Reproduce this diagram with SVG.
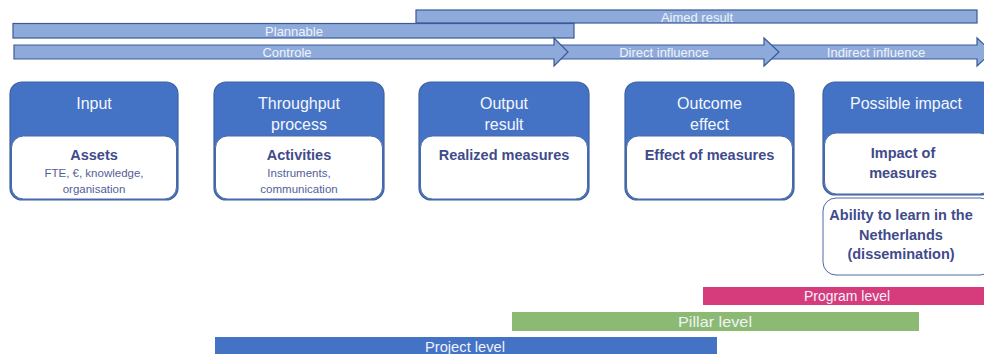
<svg xmlns="http://www.w3.org/2000/svg" width="984" height="354" viewBox="0 0 984 354">
<style>
.bar{fill:#8eaadb;stroke:#3a5a96;stroke-width:1.2}
.bt{font-family:"Liberation Sans",Arial,sans-serif;font-size:13px;fill:#eef2fa;text-anchor:middle}
.box{fill:#4472c4;stroke:#3f62a0;stroke-width:1.2}
.panel{fill:#ffffff;stroke:#4a6aa6;stroke-width:1}
.hd{font-family:"Liberation Sans",Arial,sans-serif;font-size:16px;fill:#f4f7fc;text-anchor:middle}
.bd{font-family:"Liberation Sans",Arial,sans-serif;font-size:14.5px;font-weight:bold;fill:#3f4b8b;text-anchor:middle}
.sb{font-family:"Liberation Sans",Arial,sans-serif;font-size:11.5px;fill:#55609a;text-anchor:middle}
.lv{font-family:"Liberation Sans",Arial,sans-serif;font-size:14.5px;fill:#eef2fa;text-anchor:middle}
</style>
<rect width="984" height="354" fill="#ffffff"/>

<g id="aimed-result">
<rect class="bar" x="416" y="10" width="561" height="13"/>
<text class="bt" x="697" y="21.5">Aimed result</text>
</g>
<g id="plannable">
<rect class="bar" x="13" y="23.5" width="561" height="14.5"/>
<text class="bt" x="294" y="35.5" font-size="13.5">Plannable</text>
</g>

<g id="connectors">
<g id="indirect-influence">
<polygon class="bar" points="770,45 977,45 977,38 992,52 977,66 977,59 770,59"/>
<text class="bt" x="876" y="56.5" font-size="12">Indirect influence</text>
</g>
<g id="direct-influence">
<polygon class="bar" points="557,45 764,45 764,38 779,52 764,66 764,59 557,59"/>
<text class="bt" x="664" y="56.5" font-size="12">Direct influence</text>
</g>
<g id="controle">
<polygon class="bar" points="14,45 554,45 554,38 568,52 554,66 554,59 14,59"/>
<text class="bt" x="287" y="57" font-size="13.5">Controle</text>
</g>
</g>

<g id="input">
<rect class="box" x="10" y="82" width="168" height="118" rx="12"/>
<rect class="panel" x="11.5" y="136" width="165" height="63" rx="12"/>
<text class="hd" x="94" y="108.5">Input</text>
<text class="bd" x="94" y="160">Assets</text>
<text class="sb" x="94" y="176.5">FTE, €, knowledge,</text>
<text class="sb" x="94" y="192.5">organisation</text>
</g>

<g id="throughput">
<rect class="box" x="214" y="82" width="170" height="118" rx="12"/>
<rect class="panel" x="215.5" y="136" width="167" height="63" rx="12"/>
<text class="hd" x="299" y="108.5">Throughput</text>
<text class="hd" x="299" y="130">process</text>
<text class="bd" x="299" y="160">Activities</text>
<text class="sb" x="299" y="176.5">Instruments,</text>
<text class="sb" x="299" y="192.5">communication</text>
</g>

<g id="output">
<rect class="box" x="419" y="82" width="170" height="118" rx="12"/>
<rect class="panel" x="420.5" y="136" width="167" height="63" rx="12"/>
<text class="hd" x="504" y="108.5">Output</text>
<text class="hd" x="504" y="130">result</text>
<text class="bd" x="504" y="159.5">Realized measures</text>
</g>

<g id="outcome">
<rect class="box" x="625" y="82" width="169" height="118" rx="12"/>
<rect class="panel" x="626.5" y="136" width="166" height="63" rx="12"/>
<text class="hd" x="709.5" y="108.5">Outcome</text>
<text class="hd" x="709.5" y="130">effect</text>
<text class="bd" x="709.5" y="159.5">Effect of measures</text>
</g>

<g id="possible-impact">
<rect class="box" x="823" y="82" width="170" height="113" rx="12"/>
<rect class="panel" x="824.5" y="133" width="167" height="61" rx="12"/>
<text class="hd" x="906" y="108.5">Possible impact</text>
<text class="bd" x="903" y="157.5">Impact of</text>
<text class="bd" x="903" y="177.5">measures</text>
</g>

<g id="dissemination">
<rect class="panel" x="823" y="198" width="170" height="77" rx="13" stroke-width="1.2"/>
<text class="bd" x="901" y="220">Ability to learn in the</text>
<text class="bd" x="901" y="239.5">Netherlands</text>
<text class="bd" x="901" y="259">(dissemination)</text>
</g>

<g id="program-level">
<rect x="703" y="287" width="281" height="18" fill="#d63b7c"/>
<text class="lv" x="847" y="301" textLength="86" lengthAdjust="spacingAndGlyphs">Program level</text>
</g>
<g id="pillar-level">
<rect x="512" y="312" width="407" height="19" fill="#8cba72"/>
<text class="lv" x="715" y="326.5" textLength="74" lengthAdjust="spacingAndGlyphs">Pillar level</text>
</g>
<g id="project-level">
<rect x="215" y="337" width="502" height="17" fill="#4472c4"/>
<text class="lv" x="465" y="351.5" textLength="80" lengthAdjust="spacingAndGlyphs">Project level</text>
</g>
</svg>
